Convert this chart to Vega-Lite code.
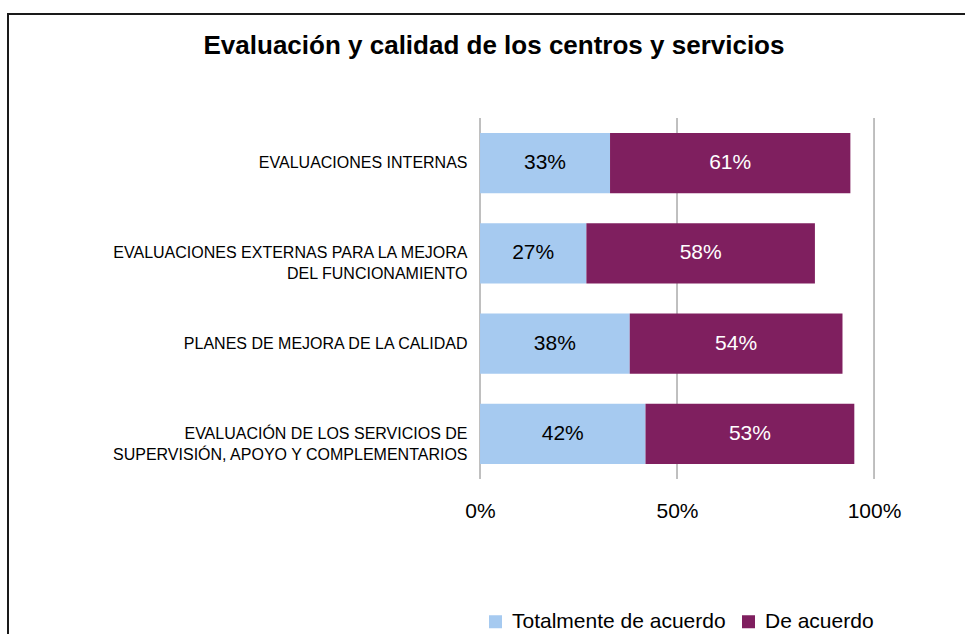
{
  "$schema": "https://vega.github.io/schema/vega-lite/v6.json",
  "width": 959,
  "height": 622,
  "autosize": {"type": "none"},
  "padding": {"left": 8, "top": 14, "right": 0, "bottom": 0},
  "background": "white",
  "config": {
    "view": {"stroke": "#1a1a1a", "strokeWidth": 2},
    "font": "Liberation Sans"
  },
  "title": {
    "text": "Evaluación y calidad de los centros y servicios",
    "fontSize": 26,
    "fontWeight": "bold",
    "font": "Liberation Sans",
    "anchor": "middle",
    "frame": "group",
    "baseline": "alphabetic",
    "offset": -66,
    "dx": 6.5,
    "color": "black"
  },
  "datasets": {
    "main": [
      {"cat": "EVALUACIONES INTERNAS", "serie": "Totalmente de acuerdo", "value": 33},
      {"cat": "EVALUACIONES INTERNAS", "serie": "De acuerdo", "value": 61},
      {"cat": "EVALUACIONES EXTERNAS PARA LA MEJORA\nDEL FUNCIONAMIENTO", "serie": "Totalmente de acuerdo", "value": 27},
      {"cat": "EVALUACIONES EXTERNAS PARA LA MEJORA\nDEL FUNCIONAMIENTO", "serie": "De acuerdo", "value": 58},
      {"cat": "PLANES DE MEJORA DE LA CALIDAD", "serie": "Totalmente de acuerdo", "value": 38},
      {"cat": "PLANES DE MEJORA DE LA CALIDAD", "serie": "De acuerdo", "value": 54},
      {"cat": "EVALUACIÓN DE LOS SERVICIOS DE\nSUPERVISIÓN, APOYO Y COMPLEMENTARIOS", "serie": "Totalmente de acuerdo", "value": 42},
      {"cat": "EVALUACIÓN DE LOS SERVICIOS DE\nSUPERVISIÓN, APOYO Y COMPLEMENTARIOS", "serie": "De acuerdo", "value": 53}
    ],
    "grid": [{"p": 0}, {"p": 50}, {"p": 100}]
  },
  "layer": [
    {
      "data": {"name": "grid"},
      "mark": {"type": "rule", "color": "#808080", "strokeWidth": 1},
      "encoding": {
        "x": {"field": "p", "type": "quantitative"},
        "y": {"datum": "EVALUACIONES INTERNAS", "type": "nominal", "bandPosition": -0.25},
        "y2": {"datum": "EVALUACIÓN DE LOS SERVICIOS DE\nSUPERVISIÓN, APOYO Y COMPLEMENTARIOS", "bandPosition": 1.25}
      }
    },
    {
      "data": {"name": "main"},
      "transform": [
        {"stack": "value", "groupby": ["cat"], "sort": [{"field": "serie", "order": "descending"}], "as": ["v0", "v1"]}
      ],
      "mark": {"type": "bar"},
      "encoding": {
        "x": {
          "field": "v0",
          "type": "quantitative",
          "scale": {"domain": [-119.8, 123.6], "nice": false, "zero": false},
          "axis": {
            "orient": "top",
            "offset": -503,
            "values": [0, 50, 100],
            "labelExpr": "datum.value + '%'",
            "ticks": false,
            "domain": false,
            "grid": false,
            "title": null,
            "labelFontSize": 21,
            "labelFont": "Liberation Sans",
            "labelColor": "black",
            "labelPadding": 0,
            "labelBaseline": "alphabetic",
            "labelFlush": false
          }
        },
        "x2": {"field": "v1"},
        "y": {
          "field": "cat",
          "type": "nominal",
          "sort": null,
          "scale": {
            "type": "band",
            "domain": [
              "EVALUACIONES INTERNAS",
              "EVALUACIONES EXTERNAS PARA LA MEJORA\nDEL FUNCIONAMIENTO",
              "PLANES DE MEJORA DE LA CALIDAD",
              "EVALUACIÓN DE LOS SERVICIOS DE\nSUPERVISIÓN, APOYO Y COMPLEMENTARIOS"
            ],
            "range": [104, 465],
            "paddingInner": 0.3333,
            "paddingOuter": 0.1667
          },
          "axis": {
            "title": null,
            "orient": "left",
            "offset": -459,
            "ticks": false,
            "domain": false,
            "grid": false,
            "labelPadding": 0,
            "labelFontSize": 16,
            "labelFont": "Liberation Sans",
            "labelColor": "black",
            "labelLineHeight": 21,
            "labelExpr": "split(datum.label, '\\n')",
            "labelAlign": "right",
            "labelBaseline": "middle",
            "labelLimit": 600
          }
        },
        "color": {
          "field": "serie",
          "type": "nominal",
          "scale": {"domain": ["Totalmente de acuerdo", "De acuerdo"], "range": ["#A6CAF0", "#7F1F5F"]},
          "legend": {
            "orient": "none",
            "legendX": 477,
            "legendY": 597,
            "direction": "horizontal",
            "title": null,
            "symbolType": "square",
            "symbolSize": 169,
            "symbolStrokeWidth": 0,
            "labelFontSize": 21,
            "labelFont": "Liberation Sans",
            "labelColor": "black",
            "labelOffset": 6,
            "labelLimit": 400,
            "columnPadding": 12,
            "padding": 0
          }
        }
      }
    },
    {
      "data": {"name": "main"},
      "transform": [
        {"stack": "value", "groupby": ["cat"], "sort": [{"field": "serie", "order": "descending"}], "as": ["v0", "v1"]},
        {"calculate": "(datum.v0 + datum.v1) / 2", "as": "mid"},
        {"calculate": "datum.value + '%'", "as": "label"}
      ],
      "mark": {"type": "text", "fontSize": 21, "font": "Liberation Sans", "baseline": "middle", "align": "center"},
      "encoding": {
        "x": {"field": "mid", "type": "quantitative"},
        "y": {"field": "cat", "type": "nominal", "sort": null},
        "text": {"field": "label"},
        "color": {
          "condition": {"test": "datum.serie === 'De acuerdo'", "value": "white"},
          "value": "black"
        }
      }
    }
  ]
}
